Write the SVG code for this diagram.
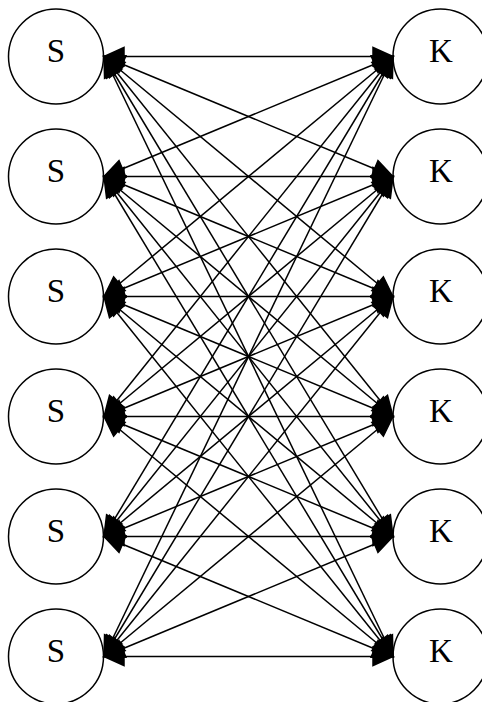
<svg xmlns="http://www.w3.org/2000/svg" width="482" height="702" viewBox="0 0 482 702">
<style>
.edge{stroke:#000;stroke-width:1.5;fill:none;marker-start:url(#ah);marker-end:url(#ah)}
.node circle{fill:#fff;stroke:#000;stroke-width:1.5}
.node text{font-family:"Liberation Serif","Times New Roman",serif;font-size:33px;text-anchor:middle;fill:#000}
</style>
<defs>
<marker id="ah" markerUnits="userSpaceOnUse" markerWidth="1" markerHeight="1" refX="0" refY="0" orient="auto-start-reverse" overflow="visible">
<path d="M0,0 L-20,-9 L-20,9 Z" fill="#000" stroke="#000" stroke-width="1.5"/>
</marker>
</defs>
<rect width="482" height="702" fill="#fff"/>
<g id="S1" class="node"><circle cx="56" cy="56.5" r="47.5"/><text x="56" y="62">S</text></g>
<g id="S2" class="node"><circle cx="56" cy="176.5" r="47.5"/><text x="56" y="182">S</text></g>
<g id="S3" class="node"><circle cx="56" cy="296.5" r="47.5"/><text x="56" y="302">S</text></g>
<g id="S4" class="node"><circle cx="56" cy="416.5" r="47.5"/><text x="56" y="422">S</text></g>
<g id="S5" class="node"><circle cx="56" cy="536.5" r="47.5"/><text x="56" y="542">S</text></g>
<g id="S6" class="node"><circle cx="56" cy="656.5" r="47.5"/><text x="56" y="662">S</text></g>
<g id="K1" class="node"><circle cx="440.5" cy="56.5" r="47.5"/><text x="441" y="62">K</text></g>
<g id="K2" class="node"><circle cx="440.5" cy="176.5" r="47.5"/><text x="441" y="182">K</text></g>
<g id="K3" class="node"><circle cx="440.5" cy="296.5" r="47.5"/><text x="441" y="302">K</text></g>
<g id="K4" class="node"><circle cx="440.5" cy="416.5" r="47.5"/><text x="441" y="422">K</text></g>
<g id="K5" class="node"><circle cx="440.5" cy="536.5" r="47.5"/><text x="441" y="542">K</text></g>
<g id="K6" class="node"><circle cx="440.5" cy="656.5" r="47.5"/><text x="441" y="662">K</text></g>
<g id="connectors">
<line class="edge" x1="104" y1="56.5" x2="393" y2="56.5"/>
<line class="edge" x1="104" y1="56.5" x2="393" y2="176.5"/>
<line class="edge" x1="104" y1="56.5" x2="393" y2="296.5"/>
<line class="edge" x1="104" y1="56.5" x2="393" y2="416.5"/>
<line class="edge" x1="104" y1="56.5" x2="393" y2="536.5"/>
<line class="edge" x1="104" y1="56.5" x2="393" y2="656.5"/>
<line class="edge" x1="104" y1="176.5" x2="393" y2="56.5"/>
<line class="edge" x1="104" y1="176.5" x2="393" y2="176.5"/>
<line class="edge" x1="104" y1="176.5" x2="393" y2="296.5"/>
<line class="edge" x1="104" y1="176.5" x2="393" y2="416.5"/>
<line class="edge" x1="104" y1="176.5" x2="393" y2="536.5"/>
<line class="edge" x1="104" y1="176.5" x2="393" y2="656.5"/>
<line class="edge" x1="104" y1="296.5" x2="393" y2="56.5"/>
<line class="edge" x1="104" y1="296.5" x2="393" y2="176.5"/>
<line class="edge" x1="104" y1="296.5" x2="393" y2="296.5"/>
<line class="edge" x1="104" y1="296.5" x2="393" y2="416.5"/>
<line class="edge" x1="104" y1="296.5" x2="393" y2="536.5"/>
<line class="edge" x1="104" y1="296.5" x2="393" y2="656.5"/>
<line class="edge" x1="104" y1="416.5" x2="393" y2="56.5"/>
<line class="edge" x1="104" y1="416.5" x2="393" y2="176.5"/>
<line class="edge" x1="104" y1="416.5" x2="393" y2="296.5"/>
<line class="edge" x1="104" y1="416.5" x2="393" y2="416.5"/>
<line class="edge" x1="104" y1="416.5" x2="393" y2="536.5"/>
<line class="edge" x1="104" y1="416.5" x2="393" y2="656.5"/>
<line class="edge" x1="104" y1="536.5" x2="393" y2="56.5"/>
<line class="edge" x1="104" y1="536.5" x2="393" y2="176.5"/>
<line class="edge" x1="104" y1="536.5" x2="393" y2="296.5"/>
<line class="edge" x1="104" y1="536.5" x2="393" y2="416.5"/>
<line class="edge" x1="104" y1="536.5" x2="393" y2="536.5"/>
<line class="edge" x1="104" y1="536.5" x2="393" y2="656.5"/>
<line class="edge" x1="104" y1="656.5" x2="393" y2="56.5"/>
<line class="edge" x1="104" y1="656.5" x2="393" y2="176.5"/>
<line class="edge" x1="104" y1="656.5" x2="393" y2="296.5"/>
<line class="edge" x1="104" y1="656.5" x2="393" y2="416.5"/>
<line class="edge" x1="104" y1="656.5" x2="393" y2="536.5"/>
<line class="edge" x1="104" y1="656.5" x2="393" y2="656.5"/>
</g>
</svg>
